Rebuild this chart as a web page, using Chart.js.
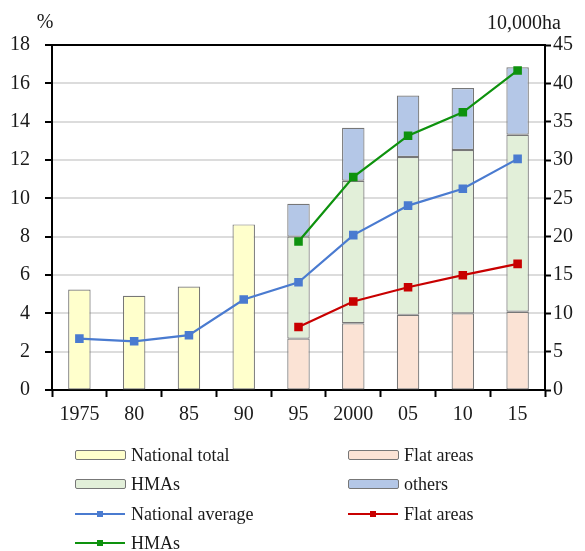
<!DOCTYPE html>
<html lang="en">
<head>
    <meta charset="UTF-8">
    <title>Abandoned farmland</title>
    <script src="https://cdn.jsdelivr.net/npm/chart.js"></script>
    <style>
        body { margin: 0; background: #fff; }
        #wrap { position: relative; width: 585px; height: 551px; font-family: "Liberation Serif", serif; }
        .leg { position: absolute; font-size: 18px; color: #1a1a1a; line-height: 20px; white-space: nowrap; }
        .box { position: absolute; width: 49px; height: 8px; border: 1px solid #777; border-radius: 2px; }
        .ln { position: absolute; width: 50px; height: 2px; }
        .ln span { position: absolute; left: 22px; top: -2px; width: 6px; height: 6px; }
    </style>
</head>
<body>
<div id="wrap">
    <canvas id="chart" width="585" height="551"></canvas>
</div>
<script>
// categories
const years = ['1975', '80', '85', '90', '95', '2000', '05', '10', '15'];

// bars, 10,000ha (right axis)
const nationalTotalArea = [13.1, 12.3, 13.5, 21.6, null, null, null, null, null];
const flatArea = [null, null, null, null, 6.7, 8.7, 9.8, 10.0, 10.2];
const hmaArea = [null, null, null, null, 13.3, 18.6, 20.6, 21.3, 23.1];
const otherArea = [null, null, null, null, 4.3, 6.9, 8.0, 8.1, 8.8];

// lines, % (left axis)
const nationalRate = [2.68, 2.54, 2.86, 4.72, 5.62, 8.08, 9.62, 10.5, 12.06];
const flatRate = [null, null, null, null, 3.29, 4.62, 5.36, 5.99, 6.58];
const hmaRate = [null, null, null, null, 7.75, 11.11, 13.27, 14.49, 16.67];

const leftTicks = [0, 2, 4, 6, 8, 10, 12, 14, 16, 18];
const rightTicks = [0, 5, 10, 15, 20, 25, 30, 35, 40, 45];

const legendItems = [
    { label: 'National total', kind: 'box', color: '#ffffcc', x: 75, y: 455 },
    { label: 'Flat areas', kind: 'box', color: '#fbe3d5', x: 348, y: 455 },
    { label: 'HMAs', kind: 'box', color: '#e2efd9', x: 75, y: 484 },
    { label: 'others', kind: 'box', color: '#b4c7e7', x: 348, y: 484 },
    { label: 'National average', kind: 'line', color: '#4a7bd0', x: 75, y: 514 },
    { label: 'Flat areas', kind: 'line', color: '#c80000', x: 348, y: 514 },
    { label: 'HMAs', kind: 'line', color: '#0e920e', x: 75, y: 543 }
];

const serif = '"Liberation Serif", serif';
const textColor = '#1a1a1a';

function barSet(label, data, color) {
    return {
        type: 'bar', label: label, data: data, yAxisID: 'y1', stack: 'area', order: 1,
        backgroundColor: color, borderColor: '#777', borderWidth: 1.2, borderSkipped: false,
        categoryPercentage: 1, barPercentage: 0.41
    };
}

function lineSet(label, data, color) {
    return {
        type: 'line', label: label, data: data, yAxisID: 'y', order: 0,
        borderColor: color, backgroundColor: color, borderWidth: 2.2,
        pointStyle: 'rect', pointRadius: 4.5, tension: 0
    };
}

const unitLabels = {
    id: 'unitLabels',
    afterDraw(chart) {
        const ctx = chart.ctx;
        ctx.save();
        ctx.font = '20px ' + serif;
        ctx.fillStyle = textColor;
        ctx.textBaseline = 'middle';
        ctx.textAlign = 'center';
        ctx.fillText('%', 45, 23);
        ctx.textAlign = 'right';
        ctx.fillText('10,000ha', 561, 24);
        ctx.restore();
    }
};

new Chart(document.getElementById('chart'), {
    data: {
        labels: years,
        datasets: [
            barSet('National total', nationalTotalArea, '#ffffcc'),
            barSet('Flat areas', flatArea, '#fbe3d5'),
            barSet('HMAs', hmaArea, '#e2efd9'),
            barSet('others', otherArea, '#b4c7e7'),
            lineSet('National average', nationalRate, '#4a7bd0'),
            lineSet('Flat areas', flatRate, '#c80000'),
            lineSet('HMAs', hmaRate, '#0e920e')
        ]
    },
    options: {
        responsive: false,
        animation: false,
        layout: { padding: { left: 0, right: 0, top: 45, bottom: 126 } },
        plugins: { legend: { display: false }, tooltip: { enabled: false } },
        scales: {
            x: {
                stacked: true,
                grid: { offset: true, drawOnChartArea: false, tickColor: '#000', tickLength: 7, tickWidth: 2 },
                border: { color: '#000', width: 2 },
                ticks: { color: textColor, font: { family: serif, size: 20 }, padding: 6, maxRotation: 0 },
                afterFit(s) { s.height = 35; }
            },
            y: {
                position: 'left', min: 0, max: 18,
                afterBuildTicks(s) { s.ticks = leftTicks.map(v => ({ value: v })); },
                grid: {
                    color: c => c.tick && c.tick.value === 18 ? '#000' : '#dcdcdc',
                    lineWidth: 2, tickColor: '#000', tickLength: 7, tickWidth: 2
                },
                border: { color: '#000', width: 2 },
                ticks: { color: textColor, font: { family: serif, size: 20 }, padding: 15 },
                afterFit(s) { s.width = 52; }
            },
            y1: {
                position: 'right', min: 0, max: 45, stacked: true,
                afterBuildTicks(s) { s.ticks = rightTicks.map(v => ({ value: v })); },
                grid: { drawOnChartArea: false, tickColor: '#000', tickLength: 6, tickWidth: 2 },
                border: { color: '#000', width: 2 },
                ticks: { color: textColor, font: { family: serif, size: 20 }, padding: 2 },
                afterFit(s) { s.width = 40; }
            }
        }
    },
    plugins: [unitLabels]
});

// legend laid out in two columns like the original
const wrap = document.getElementById('wrap');
legendItems.forEach(item => {
    if (item.kind === 'box') {
        const b = document.createElement('div');
        b.className = 'box';
        b.style.left = item.x + 'px';
        b.style.top = (item.y - 5) + 'px';
        b.style.background = item.color;
        wrap.appendChild(b);
    } else {
        const l = document.createElement('div');
        l.className = 'ln';
        l.style.left = item.x + 'px';
        l.style.top = (item.y - 1) + 'px';
        l.style.background = item.color;
        const m = document.createElement('span');
        m.style.background = item.color;
        l.appendChild(m);
        wrap.appendChild(l);
    }
    const t = document.createElement('div');
    t.className = 'leg';
    t.textContent = item.label;
    t.style.left = (item.x + 56) + 'px';
    t.style.top = (item.y - 10) + 'px';
    wrap.appendChild(t);
});
</script>
</body>
</html>
